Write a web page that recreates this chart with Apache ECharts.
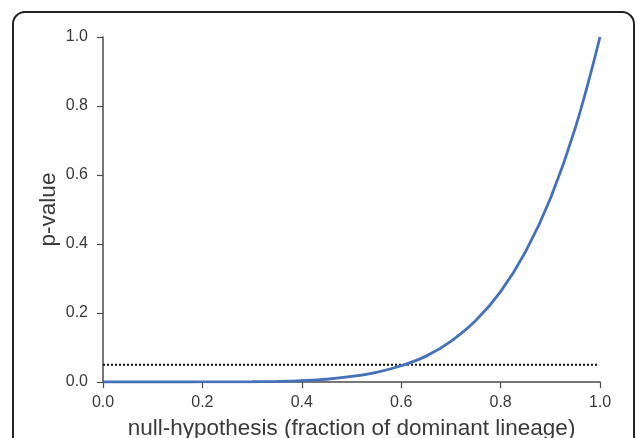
<!DOCTYPE html>
<html>
<head>
<meta charset="utf-8">
<script src="https://cdn.jsdelivr.net/npm/echarts@6/dist/echarts.min.js"></script>
<style>
  html, body { margin: 0; padding: 0; background: #fff; overflow: hidden; }
  #chart { width: 637px; height: 438px; }
</style>
</head>
<body>
<div id="chart"></div>
<script>
// values
const xs = [0, 0.05, 0.1, 0.15, 0.2, 0.25, 0.3, 0.35, 0.4, 0.45, 0.5,
  0.55, 0.6, 0.65, 0.7, 0.75, 0.8, 0.85, 0.9, 0.95, 1.0]
const pValues = [0, 0, 0, 0, 0.0001, 0.0002, 0.0007, 0.0018, 0.004, 0.008, 0.016,
  0.028, 0.047, 0.075, 0.118, 0.178, 0.262, 0.377, 0.531, 0.735, 1.0]
const threshold = 0.05
const thresholdRange = [0, 0.995]
const xTicks = [0, 0.2, 0.4, 0.6, 0.8, 1.0]
const yTicks = [0, 0.2, 0.4, 0.6, 0.8, 1.0]

const chart = echarts.init(document.getElementById('chart'))

const axisColor = '#4a4a4a'
const labelColor = '#3a3a3a'
const font = 'Liberation Sans, Arial, sans-serif'

chart.setOption({
  backgroundColor: '#fff',
  animation: false,
  grid: { left: 103, right: 37, top: 37, bottom: 56, containLabel: false, outerBoundsMode: 'none' },
  graphic: [{
    type: 'rect',
    shape: { x: 13, y: 12, width: 621, height: 460, r: 12 },
    style: { fill: 'none', stroke: '#222', lineWidth: 2 },
    silent: true
  }],
  xAxis: {
    type: 'value',
    min: 0,
    max: 1,
    interval: 0.2,
    name: 'null-hypothesis (fraction of dominant lineage)',
    nameLocation: 'middle',
    nameGap: 35,
    nameMoveOverlap: false,
    nameTextStyle: { fontSize: 22.5, color: labelColor, fontFamily: font },
    axisLine: { show: true, lineStyle: { color: axisColor, width: 1.5 } },
    axisTick: { show: true, length: 6, lineStyle: { color: axisColor, width: 1.2 } },
    axisLabel: {
      color: labelColor, fontSize: 16, fontFamily: font, margin: 13,
      formatter: v => xTicks.includes(+v.toFixed(1)) ? v.toFixed(1) : ''
    },
    splitLine: { show: false }
  },
  yAxis: {
    type: 'value',
    min: 0,
    max: 1,
    interval: 0.2,
    name: 'p-value',
    nameLocation: 'middle',
    nameGap: 43,
    nameMoveOverlap: false,
    nameRotate: 90,
    nameTextStyle: { fontSize: 22.5, color: labelColor, fontFamily: font },
    axisLine: { show: true, lineStyle: { color: axisColor, width: 1.5 } },
    axisTick: { show: true, length: 6, lineStyle: { color: axisColor, width: 1.2 } },
    axisLabel: {
      color: labelColor, fontSize: 16, fontFamily: font, margin: 15,
      formatter: v => yTicks.includes(+v.toFixed(1)) ? v.toFixed(1) : ''
    },
    splitLine: { show: false }
  },
  series: [
    {
      type: 'line',
      data: thresholdRange.map(x => [x, threshold]),
      showSymbol: false,
      lineStyle: { color: '#111', width: 2, type: [2, 2] },
      silent: true
    },
    {
      type: 'line',
      data: xs.map((x, i) => [x, pValues[i]]),
      smooth: 0.4,
      showSymbol: false,
      lineStyle: { color: '#4471b9', width: 2.8 },
      silent: true
    }
  ]
})
</script>
</body>
</html>
